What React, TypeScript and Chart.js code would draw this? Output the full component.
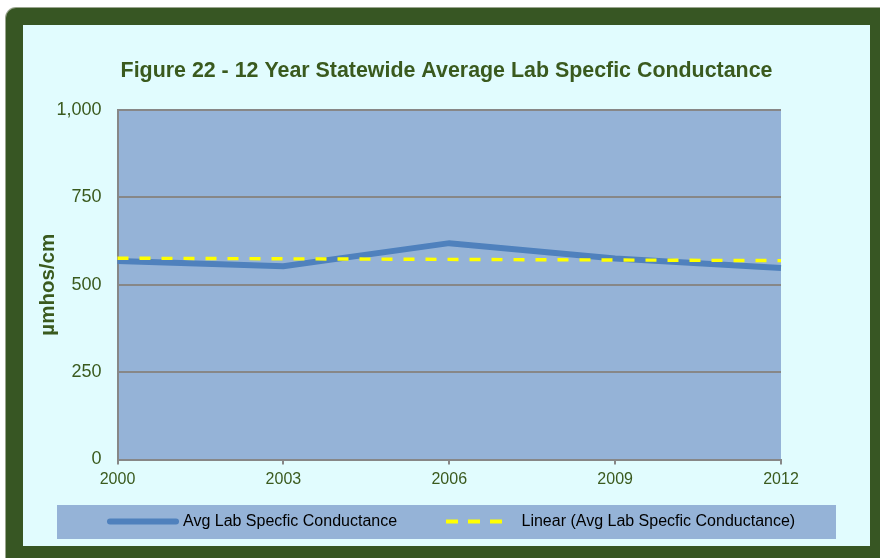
import { useEffect, useRef } from 'react';
import { Chart, registerables } from 'chart.js';

Chart.register(...registerables);

const years = ['2000', '2003', '2006', '2009', '2012'];
const avgConductance = [568, 553, 619, 575, 548];
const linearTrend: (number | null)[] = [576, null, null, null, 569];
const yTickValues = [0, 250, 500, 750, 1000];
const seriesLabels = ['Avg Lab Specfic Conductance', 'Linear (Avg Lab Specfic Conductance)'];
const chartTitle = 'Figure 22 - 12 Year Statewide Average Lab Specfic Conductance';
const yAxisTitle = 'µmhos/cm';

const FONT = '"Liberation Sans", Arial, Helvetica, sans-serif';
const GREEN_TEXT = '#3A5A1E';
const GRID = '#878787';
const PLOT_BG = '#95B3D7';
const BLUE = '#4F81BD';
const YELLOW = '#FFFF00';

const plotBackground = {
  id: 'plotBackground',
  beforeDraw(chart: any) {
    const { ctx, chartArea } = chart;
    if (!chartArea) return;
    ctx.save();
    ctx.fillStyle = PLOT_BG;
    ctx.fillRect(chartArea.left, chartArea.top, chartArea.right - chartArea.left, chartArea.bottom - chartArea.top);
    ctx.restore();
  },
};

const boxedLegend = {
  id: 'boxedLegend',
  afterDraw(chart: any) {
    const ctx = chart.ctx as CanvasRenderingContext2D;
    const ds = chart.data.datasets;
    const main = ds.find((d: any) => d.label === seriesLabels[0]);
    const trend = ds.find((d: any) => d.label === seriesLabels[1]);
    const cy = 496.5;
    ctx.save();
    ctx.fillStyle = PLOT_BG;
    ctx.fillRect(34, 480, 779, 34);

    ctx.font = `16px ${FONT}`;
    ctx.textBaseline = 'middle';
    ctx.textAlign = 'left';

    // item 1
    ctx.lineCap = 'round';
    ctx.strokeStyle = main.borderColor;
    ctx.lineWidth = main.borderWidth;
    ctx.beginPath();
    ctx.moveTo(87, cy);
    ctx.lineTo(153, cy);
    ctx.stroke();
    ctx.fillStyle = '#000000';
    ctx.fillText(main.label, 160, cy);

    // item 2
    ctx.lineCap = 'butt';
    ctx.setLineDash([12, 10]);
    ctx.strokeStyle = trend.borderColor;
    ctx.lineWidth = 4;
    ctx.beginPath();
    ctx.moveTo(423, cy);
    ctx.lineTo(481, cy);
    ctx.stroke();
    ctx.setLineDash([]);
    ctx.fillText(trend.label, 498.5, cy);
    ctx.restore();
  },
};

function ChartCanvas() {
  const ref = useRef<HTMLCanvasElement | null>(null);

  useEffect(() => {
    if (!ref.current) return;
    Chart.defaults.font.family = FONT;
    const chart = new Chart(ref.current, {
      type: 'line',
      data: {
        labels: years,
        datasets: [
          {
            label: seriesLabels[1],
            data: linearTrend,
            borderColor: YELLOW,
            borderWidth: 3.4,
            borderDash: [11, 11],
            pointRadius: 0,
            spanGaps: true,
            tension: 0,
            fill: false,
            order: 0,
          },
          {
            label: seriesLabels[0],
            data: avgConductance,
            borderColor: BLUE,
            borderWidth: 6,
            pointRadius: 0,
            tension: 0,
            fill: false,
            order: 1,
          },
        ],
      },
      options: {
        responsive: false,
        animation: false,
        devicePixelRatio: 1,
        layout: { padding: { left: 0, top: 0, right: 0, bottom: 46.5 } },
        plugins: {
          legend: { display: false },
          tooltip: { enabled: false },
          title: {
            display: true,
            text: chartTitle,
            color: GREEN_TEXT,
            font: { size: 21.4, weight: 'bold', family: FONT },
            padding: { top: 32.8, bottom: 26.5 },
          },
        },
        scales: {
          x: {
            type: 'category',
            offset: false,
            grid: {
              display: true,
              drawOnChartArea: false,
              drawTicks: true,
              tickLength: 5,
              color: GRID,
              lineWidth: 2,
            },
            border: { display: true, color: GRID, width: 2 },
            ticks: {
              color: GREEN_TEXT,
              font: { size: 16, family: FONT },
              padding: 5,
              autoSkip: false,
              maxRotation: 0,
              minRotation: 0,
            },
            afterFit(scale: any) {
              scale.height = 40;
            },
          },
          y: {
            type: 'linear',
            min: 0,
            max: 1000,
            afterBuildTicks(scale: any) {
              scale.ticks = yTickValues.map((v) => ({ value: v }));
            },
            grid: {
              display: true,
              drawTicks: false,
              color: GRID,
              lineWidth: 2,
            },
            border: { display: true, color: GRID, width: 2 },
            ticks: {
              color: GREEN_TEXT,
              font: { size: 18, family: FONT },
              padding: 16,
              callback: (v: any) => Number(v).toLocaleString('en-US'),
            },
            title: {
              display: true,
              text: yAxisTitle,
              color: GREEN_TEXT,
              font: { size: 20.5, weight: 'bold', family: FONT },
              padding: { top: 13.5, bottom: 0 },
            },
            afterFit(scale: any) {
              scale.width = 94.5;
            },
          },
          yRightSpace: {
            type: 'linear',
            position: 'right',
            display: true,
            min: 0,
            max: 1000,
            grid: { display: false, drawTicks: false },
            border: { display: false },
            ticks: { display: false },
            afterFit(scale: any) {
              scale.width = 89;
            },
          },
        },
      },
      plugins: [plotBackground, boxedLegend],
    });
    return () => chart.destroy();
  }, []);

  return <canvas ref={ref} width={847} height={521} style={{ display: 'block', width: 847, height: 521 }} />;
}

export default function App() {
  return (
    <div style={{ position: 'fixed', left: 0, top: 0, width: 880, height: 558, overflow: 'hidden', background: '#ffffff' }}>
      <div
        style={{
          position: 'absolute',
          left: 6,
          top: 8,
          width: 900,
          height: 580,
          background: '#375623',
          borderRadius: 10,
          boxShadow: '0 0 0 1px #9aa58f',
        }}
      />
      <div style={{ position: 'absolute', left: 23, top: 25, width: 847, height: 521, background: '#E1FCFE' }}>
        <ChartCanvas />
      </div>
    </div>
  );
}
